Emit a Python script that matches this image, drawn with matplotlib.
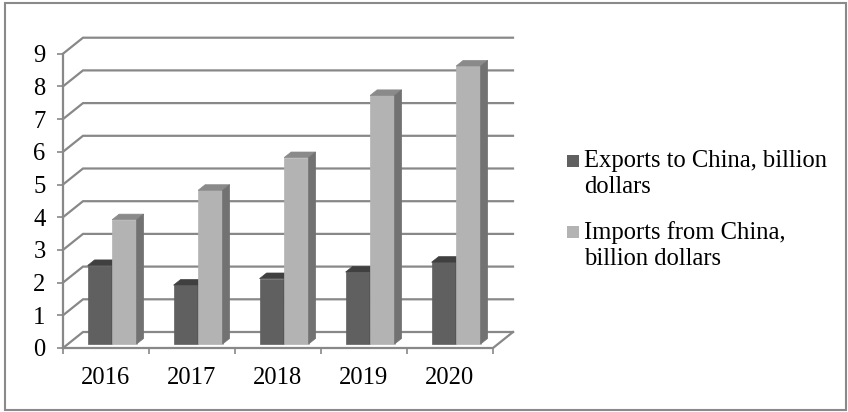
import matplotlib
matplotlib.use("Agg")
import matplotlib.pyplot as plt
from matplotlib.patches import Polygon, Rectangle
from matplotlib.lines import Line2D

years = ["2016", "2017", "2018", "2019", "2020"]
exports = [2.4, 1.8, 2.0, 2.2, 2.5]
imports = [3.8, 4.7, 5.7, 7.6, 8.5]
yticks = list(range(0, 10))
legend_labels = ["Exports to China, billion\ndollars", "Imports from China,\nbillion dollars"]

W, H = 848, 412
FS = 17.7
plt.rcParams['font.family'] = ['Liberation Serif', 'DejaVu Serif']
fig = plt.figure(figsize=(W / 100, H / 100), dpi=100)

# front plane of the 3D box in pixels
px_left, px_right = 63, 493
px_zero, unit_px = 348, 32.7
ax = fig.add_axes([px_left / W, (H - px_zero) / H, (px_right - px_left) / W, 9 * unit_px / H])
n = len(years)
ax.set_xlim(0, n)
ax.set_ylim(0, 9)
for s in ax.spines.values():
    s.set_visible(False)

grid_c = "#888888"
DX = 20 / ((px_right - px_left) / n)   # depth offset in data units (x)
DY = 16 / unit_px                      # depth offset in data units (y)

# back wall gridlines with left-wall diagonals
for v in yticks:
    ax.add_line(Line2D([0, DX, n + DX], [v, v + DY, v + DY], color=grid_c, lw=1.6,
                       clip_on=False, zorder=1, solid_joinstyle='miter'))
# floor
ax.add_line(Line2D([0, n, n + DX], [0, 0, DY], color=grid_c, lw=1.6, clip_on=False, zorder=1))
# front vertical axis
ax.add_line(Line2D([0, 0], [0, 9], color=grid_c, lw=1.6, clip_on=False, zorder=1))

# ticks
ax.set_yticks(yticks)
ax.set_yticklabels([str(v) for v in yticks], fontsize=FS)
ax.tick_params(axis='y', length=4.5, width=1.2, color=grid_c, pad=8)
ax.set_xticks(range(n + 1))
ax.set_xticklabels([""] * (n + 1))
ax.set_xticks([i + 0.5 for i in range(n)], minor=True)
ax.set_xticklabels(years, minor=True, fontsize=FS)
ax.tick_params(axis='x', which='major', length=4.5, width=1.2, color=grid_c)
ax.tick_params(axis='x', which='minor', length=0, pad=14)

Df, Db = 0.25, 0.60
bw = 0.285


def bar3d(x0, h, front, top, side):
    xf, yf = Df * DX, Df * DY
    xb, yb = Db * DX, Db * DY
    polys = [
        ([(x0 + xf, yf), (x0 + bw + xf, yf), (x0 + bw + xf, h + yf), (x0 + xf, h + yf)], front),
        ([(x0 + xf, h + yf), (x0 + bw + xf, h + yf), (x0 + bw + xb, h + yb), (x0 + xb, h + yb)], top),
        ([(x0 + bw + xf, yf), (x0 + bw + xb, yb), (x0 + bw + xb, h + yb), (x0 + bw + xf, h + yf)], side),
    ]
    for pts, c in polys:
        ax.add_patch(Polygon(pts, closed=True, facecolor=c, edgecolor=c, lw=0.5,
                             clip_on=False, zorder=3))


for i in range(n):
    bar3d(i + 0.228, exports[i], "#606060", "#404040", "#3a3a3a")
    bar3d(i + 0.513, imports[i], "#b3b3b3", "#8a8a8a", "#727272")

# legend (manual)
leg_colors = ["#606060", "#b3b3b3"]
leg_y = [161, 232]
for lbl, c, y in zip(legend_labels, leg_colors, leg_y):
    fig.patches.append(Rectangle((567 / W, 1 - (y + 5.5) / H), 11.5 / W, 11.5 / H,
                                 transform=fig.transFigure, facecolor=c, edgecolor='none'))
    fig.text(584 / W, 1 - (y - 11) / H, lbl, fontsize=FS, va='top', ha='left',
             linespacing=1.22)

# outer border
fig.patches.append(Rectangle((5 / W, 1 - 410 / H), 841 / W, 407 / H, transform=fig.transFigure,
                             facecolor='none', edgecolor='#8a8a8a', lw=1.5))

fig.savefig("out.png", dpi=100)
